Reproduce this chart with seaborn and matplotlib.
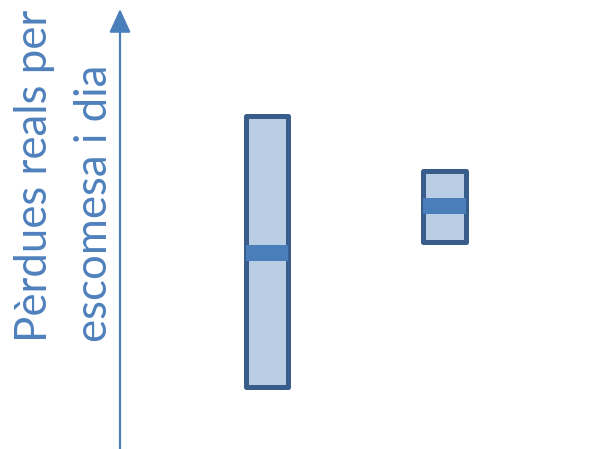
import numpy as np
import pandas as pd
import matplotlib
matplotlib.use("Agg")
import matplotlib.pyplot as plt
import seaborn as sns

# Data (arbitrary units; no tick labels in the original)
categories = ["A", "B"]
q1_values = [62, 207.5]
median_values = [196, 243]
q3_values = [333, 278.5]
y_label_lines = ["Pèrdues reals per", "escomesa i dia"]

rows = []
for cat, q1, med, q3 in zip(categories, q1_values, median_values, q3_values):
    for v in (q1, q1, med, q3, q3):
        rows.append({"cat": cat, "val": v})
df = pd.DataFrame(rows)

sns.set_theme(style="white")
fig = plt.figure(figsize=(6.06, 4.49), dpi=100)
ax = fig.add_axes([0, 0, 1, 1])

fill = "#B9CDE5"
edge = "#385D8A"
med_c = "#4A7EBB"
text_c = "#4F81BD"

sns.boxplot(data=df, x="cat", y="val", ax=ax, whis=0, showfliers=False, showcaps=False,
            width=0.242, color=fill, linewidth=3.6,
            boxprops=dict(facecolor=fill, edgecolor=edge, linewidth=3.6, joinstyle="round"),
            medianprops=dict(color=med_c, linewidth=11.5, solid_capstyle="butt"),
            whiskerprops=dict(linewidth=0))

ax.set_xlim(-267 / 177.5, (606 - 267) / 177.5)
ax.set_ylim(0, 449)
ax.axis("off")

# arrow y-axis
ax.annotate("", xy=(120 / 606, 1 - 9 / 449), xytext=(120 / 606, 0), xycoords="axes fraction",
            textcoords="axes fraction",
            arrowprops=dict(arrowstyle="-|>,head_length=1.2,head_width=0.55", color=med_c, lw=1.6,
                            shrinkA=0, shrinkB=0))

fig.text(47 / 606, 1 - 342 / 449, y_label_lines[0], rotation=90, color=text_c, fontsize=31.5,
         family="Lato", ha="left", va="baseline", rotation_mode="anchor")
fig.text(107 / 606, 1 - 342 / 449, y_label_lines[1], rotation=90, color=text_c, fontsize=31.5,
         family="Lato", ha="left", va="baseline", rotation_mode="anchor")

fig.savefig("out.png", dpi=100)
